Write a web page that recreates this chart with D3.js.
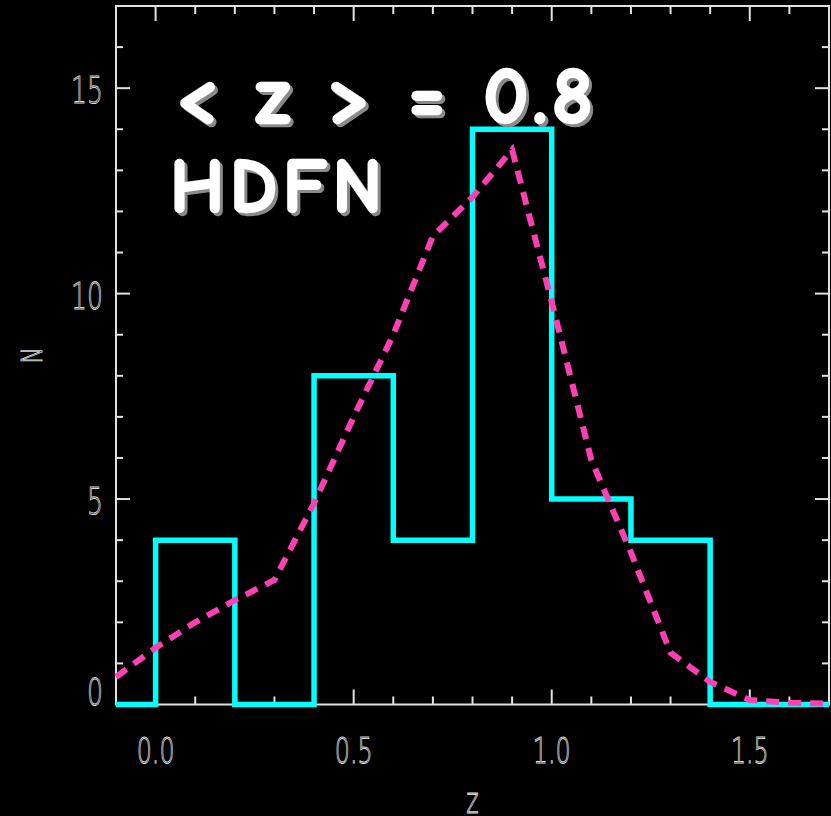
<!DOCTYPE html>
<html>
<head>
<meta charset="utf-8">
<script src="https://cdn.jsdelivr.net/npm/d3@7"></script>
<style>
  html, body { margin: 0; padding: 0; background: #000; }
  svg { display: block; }
</style>
</head>
<body>
<svg id="chart" width="831" height="816"></svg>
<script>
// Redshift histogram (counts per 0.2 bin) and smoothed model curve
const binEdges = [0.0, 0.2, 0.4, 0.6, 0.8, 1.0, 1.2, 1.4];
const binCounts = [4, 0, 8, 4, 14, 5, 4];

const curveZ = [-0.1, 0.0, 0.1, 0.2, 0.3, 0.4, 0.5, 0.6, 0.7, 0.8, 0.9, 1.0, 1.1, 1.2, 1.3, 1.4, 1.5, 1.6, 1.7];
const curveN = [0.67, 1.38, 2.0, 2.54, 3.03, 4.9, 7.0, 9.0, 11.4, 12.35, 13.5, 9.8, 5.95, 3.7, 1.26, 0.55, 0.11, 0.04, 0.02];

const xTickValues = [0.0, 0.5, 1.0, 1.5];
const xTickLabels = ["0.0", "0.5", "1.0", "1.5"];
const yTickValues = [0, 5, 10, 15];
const yTickLabels = ["0", "5", "10", "15"];

const xDomain = [-0.1, 1.7];
const yDomain = [0, 17];

const meanLabel = "< z > = 0.8";
const fieldLabel = "HDFN";
const xTitle = "z";
const yTitle = "N";

// ---- layout ----
const plotLeft = 116, plotRight = 829, plotTop = 6, plotBottom = 704.5;
const svg = d3.select("#chart");
svg.append("rect").attr("width", 831).attr("height", 816).attr("fill", "#000");

const x = d3.scaleLinear().domain(xDomain).range([plotLeft, plotRight]);
const y = d3.scaleLinear().domain(yDomain).range([plotBottom, plotTop]);

const axisColor = "#e2e2e2";
const labelColor = "#d6d6d6";

// frame
svg.append("rect")
  .attr("x", plotLeft).attr("y", plotTop)
  .attr("width", plotRight - plotLeft).attr("height", plotBottom - plotTop)
  .attr("fill", "none").attr("stroke", axisColor).attr("stroke-width", 2);

// ticks on all four sides, pointing inward
const majorLen = 15, minorLen = 8;
const xMinor = d3.range(0, 1.71, 0.1).filter(v => !xTickValues.some(m => Math.abs(m - v) < 1e-6));
const yMinor = d3.range(1, 17, 1).filter(v => !yTickValues.includes(v));

const ticks = svg.append("g").attr("stroke", axisColor).attr("stroke-width", 2);
function xTick(v, len) {
  ticks.append("line").attr("x1", x(v)).attr("x2", x(v)).attr("y1", plotBottom).attr("y2", plotBottom - len);
  ticks.append("line").attr("x1", x(v)).attr("x2", x(v)).attr("y1", plotTop).attr("y2", plotTop + len);
}
function yTick(v, len) {
  ticks.append("line").attr("y1", y(v)).attr("y2", y(v)).attr("x1", plotLeft).attr("x2", plotLeft + len);
  ticks.append("line").attr("y1", y(v)).attr("y2", y(v)).attr("x1", plotRight).attr("x2", plotRight - len);
}
xTickValues.forEach(v => xTick(v, majorLen));
xMinor.forEach(v => xTick(v, minorLen));
yTickValues.forEach(v => yTick(v, majorLen - 1));
yMinor.forEach(v => yTick(v, minorLen - 1));

// tick labels (thin, condensed outline lettering)
const tickFont = "'DejaVu Sans', sans-serif";
function thinLabel(px, py, text, anchor, size) {
  const g = svg.append("g").attr("transform", `translate(${px},${py}) scale(0.66,1)`);
  g.append("text")
    .attr("text-anchor", anchor)
    .attr("font-family", tickFont)
    .attr("font-weight", 200)
    .attr("font-size", size)
    .attr("fill", "none")
    .attr("stroke", labelColor)
    .attr("stroke-width", 1)
    .text(text);
  return g;
}
xTickValues.forEach((v, i) => thinLabel(x(v), 763, xTickLabels[i], "middle", 36));
yTickValues.forEach((v, i) => {
  const py = v === 0 ? y(v) : y(v) + 15;
  thinLabel(103, py, yTickLabels[i], "end", 38);
});

// axis titles
thinLabel((plotLeft + plotRight) / 2, 813, xTitle, "middle", 36);
svg.append("g")
  .attr("transform", `translate(42,${(plotTop + plotBottom) / 2}) rotate(-90) scale(0.75,1)`)
  .append("text")
  .attr("text-anchor", "middle")
  .attr("font-family", tickFont)
  .attr("font-weight", 200)
  .attr("font-size", 29)
  .attr("fill", "none")
  .attr("stroke", labelColor)
  .attr("stroke-width", 1)
  .text(yTitle);

// plot clip
svg.append("clipPath").attr("id", "plotClip")
  .append("rect").attr("x", plotLeft - 3).attr("y", plotTop).attr("width", plotRight - plotLeft + 6).attr("height", plotBottom - plotTop + 6);

// histogram as a step outline
const stepPts = [[xDomain[0], 0]];
binEdges.forEach((e, i) => stepPts.push([e, i < binCounts.length ? binCounts[i] : 0]));
stepPts.push([xDomain[1], 0]);

const stepLine = d3.line().x(d => x(d[0])).y(d => y(d[1])).curve(d3.curveStepAfter);
svg.append("path")
  .attr("clip-path", "url(#plotClip)")
  .attr("d", stepLine(stepPts))
  .attr("fill", "none")
  .attr("stroke", "#00ffff")
  .attr("stroke-width", 5.5)
  .attr("stroke-linejoin", "miter");

// model curve (dashed)
const modelLine = d3.line().x((d, i) => x(curveZ[i])).y(d => y(d));
svg.append("path")
  .attr("clip-path", "url(#plotClip)")
  .attr("d", modelLine(curveN))
  .attr("fill", "none")
  .attr("stroke", "#ff3fb4")
  .attr("stroke-width", 6)
  .attr("stroke-dasharray", "13,9");

// annotations with drop shadow
const annoFont = "'Comic Sans MS', 'Comic Neue', 'Open Sans', sans-serif";
function shadowText(px, py, text, size, len) {
  const g = svg.append("g");
  [[3, 3, "#8a8a8a"], [0, 0, "#ffffff"]].forEach(([dx, dy, col]) => {
    g.append("text")
      .attr("x", px + dx).attr("y", py + dy)
      .attr("font-family", annoFont)
      .attr("font-weight", 700)
      .attr("font-size", size)
      .attr("textLength", len)
      .attr("lengthAdjust", "spacing")
      .attr("fill", col)
      .attr("stroke", col)
      .attr("stroke-width", 2.5)
      .attr("stroke-linejoin", "round")
      .text(text);
  });
}
shadowText(175, 123, meanLabel, 80, 418);
shadowText(170, 212, fieldLabel, 76, 212);
</script>
</body>
</html>
